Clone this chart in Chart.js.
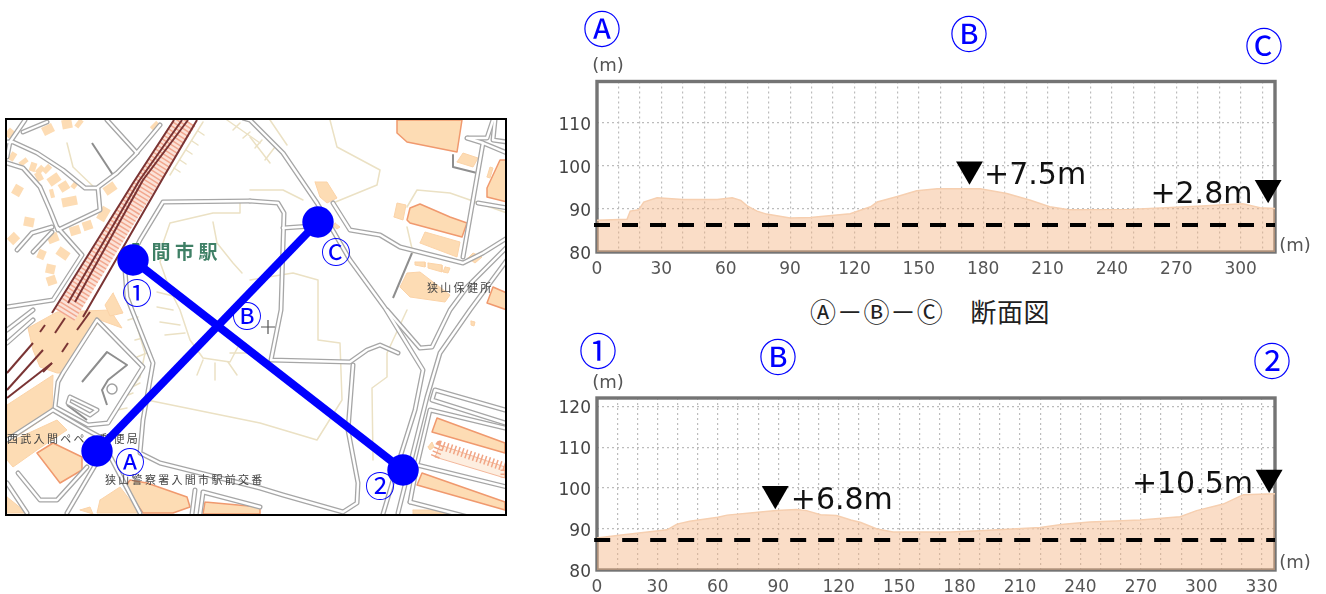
<!DOCTYPE html>
<html lang="ja">
<head>
<meta charset="utf-8">
<title>断面図</title>
<script src="https://cdn.jsdelivr.net/npm/chart.js@4"></script>
<style>
  html, body { margin: 0; padding: 0; background: #fff; width: 1326px; height: 594px; overflow: hidden; }
  canvas { position: absolute; filter: blur(0.4px); }
  #mapChart { left: 0; top: 100px; }
  #topChart { left: 540px; top: 50px; }
  #botChart { left: 540px; top: 370px; }
  .mark { position: absolute; transform: translate(-50%, -50%); color: #0000ff; font: 38px "Noto Sans CJK JP"; line-height: 1; white-space: pre; }
  .unit { position: absolute; transform: translate(-50%, -50%); color: #555; font: 18px "DejaVu Sans"; line-height: 1; }
  .caption { position: absolute; left: 810px; top: 295px; color: #222; font: 26px "Noto Sans CJK JP"; line-height: 32px; letter-spacing: 0.7px; white-space: pre; }
</style>
</head>
<body>
<canvas id="mapChart" width="530" height="430"></canvas>
<canvas id="topChart" width="786" height="240"></canvas>
<canvas id="botChart" width="786" height="224"></canvas>

<span class="mark" style="left:602px;top:27px">Ⓐ</span>
<span class="mark" style="left:969px;top:32px">Ⓑ</span>
<span class="mark" style="left:1264px;top:44px">Ⓒ</span>
<span class="mark" style="left:598px;top:349px">①</span>
<span class="mark" style="left:778px;top:355px">Ⓑ</span>
<span class="mark" style="left:1272px;top:359px">②</span>
<span class="unit" style="left:608px;top:65px">(m)</span>
<span class="unit" style="left:1295px;top:245px">(m)</span>
<span class="unit" style="left:608px;top:382px">(m)</span>
<span class="unit" style="left:1295px;top:562px">(m)</span>
<span class="caption">Ⓐ－Ⓑ－Ⓒ　断面図</span>

<script>
// profile A-B-C
const topDist = [0, 14, 15.5, 19.4, 21.8, 28, 40, 56, 63, 67, 70, 74.6, 79, 90, 99.5, 118, 127.5, 130.6, 140, 149, 158.6, 178.6, 191, 202, 211, 220, 248, 279.7, 301, 309, 316];
const topElev = [87.4, 87.6, 89.5, 89.8, 91.6, 92.6, 92.2, 92.2, 92.6, 92, 90.7, 89.5, 88.8, 87.9, 88, 88.9, 90.5, 91.6, 92.9, 94.2, 94.7, 94.7, 93.6, 92, 90.5, 89.8, 89.9, 90.6, 91.2, 90.3, 90.1];
const topBaseline = 86.3;
const topXLabels = [0, 30, 60, 90, 120, 150, 180, 210, 240, 270, 300];
const topYLabels = [80, 90, 100, 110];
const topMarkX = [173.6, 312.8];
const topMarkY = [99.2, 94.9];
const topNote = ['+7.5m', '+2.8m'];
const topNoteX = [180.4, 305.5];
const topNoteY = [95.8, 91.4];

// profile 1-B-2
const botDist = [0, 10, 34.8, 39.7, 46, 60, 64.6, 76, 89, 99, 104, 111, 119, 126, 131, 139, 147, 175.5, 190, 220, 231.6, 244.7, 269.7, 289.5, 297.7, 310.9, 320.9, 336.6];
const botElev = [87.8, 88.4, 89.8, 91.2, 91.9, 92.9, 93.4, 93.9, 94.5, 94.8, 94.5, 93.5, 93.3, 92.2, 91.6, 90, 89.3, 89.3, 89.6, 90.4, 91.2, 91.7, 92.2, 93, 94.5, 96.1, 98.4, 98.6];
const botBaseline = 87.35;
const botXLabels = [0, 30, 60, 90, 120, 150, 180, 210, 240, 270, 300, 330];
const botYLabels = [80, 90, 100, 110, 120];
const botMarkX = [88.5, 333.7];
const botMarkY = [98.6, 102.6];
const botNote = ['+6.8m', '+10.5m'];
const botNoteX = [96.2, 325.7];
const botNoteY = [94.95, 98.9];

// map layers, flat x,y lists in map units
const roads = [
  [107,120, 137,153], [160,125, 135,155, 117,173, 97,188, 85,188, 63,170, 37,153, 13,142, 7,142],
  [98,188, 100,210, 58,230, 50,210, 40,187, 23,168, 7,163], [58,228, 82,255, 53,300, 7,307],
  [52,227, 32,233, 17,250], [52,232, 33,252], [25,120, 10,142, 7,157], [47,122, 23,132],
  [250,201, 278,203, 284,213, 281,310, 271,360, 350,362, 367,350, 380,345, 398,353],
  [353,365, 348,430, 358,483, 357,503, 343,512, 283,495, 260,488, 160,463, 140,453, 143,420, 153,363, 132,310, 127,297, 125,270, 140,240, 163,202, 250,201],
  [283,228, 312,226], [243,118, 250,120, 283,153, 317,203, 350,260, 385,308, 423,370, 415,410, 397,467, 383,514],
  [507,247, 467,287, 450,310, 432,347, 420,348, 387,310], [507,260, 470,310, 440,353, 427,397, 398,513],
  [333,203, 350,230, 380,235, 400,247, 463,263, 483,253, 507,238], [463,257, 483,143, 467,138], [483,143, 507,153],
  [493,120, 487,138, 468,138], [478,203, 507,208], [495,120, 493,140, 507,142],
  [505,410, 435,390, 432,400, 505,423], [505,428, 430,410, 417,465], [417,465, 507,487], [410,502, 507,527], [417,465, 410,502],
  [97,320, 143,367, 108,423, 88,425, 55,407, 58,382, 63,373, 97,320], [70,397, 97,410, 90,415, 68,403, 70,397],
  [53,410, 87,430, 100,437, 140,513], [100,457, 67,513], [18,473, 40,500, 57,500, 87,467], [7,483, 27,513],
  [7,343, 33,320], [7,330, 33,310], [53,410, 7,440], [203,492, 260,507], [203,493, 200,514], [195,490, 192,514]
];
const thinRoads = [
  [92,143, 113,175], [453,155, 453,167, 477,173], [412,253, 393,298], [82,382, 107,352, 127,365, 108,380, 102,390, 107,405], [67,405, 87,420]
];
const buildings = [
  [397,120, 462,120, 457,152, 407,142, 397,133], [457,162, 463,153, 478,158, 473,167], [315,182, 327,182, 337,198, 327,203, 320,197],
  [335,223, 340,227, 337,229, 333,226], [394,217, 397,203, 406,205, 403,220], [407,220, 410,208, 420,204, 450,217, 467,223, 462,237, 410,223],
  [420,243, 425,232, 460,242, 457,257], [415,262, 425,262, 425,267, 415,265], [428,263, 442,265, 442,272, 428,268], [445,267, 450,268, 448,273, 443,272],
  [400,287, 407,273, 420,272, 450,295, 445,302, 410,297], [468,258, 473,253, 482,257, 475,263], [487,188, 500,160, 507,160, 507,202, 487,197],
  [487,177, 490,167, 493,168, 490,178], [487,303, 493,287, 507,293, 507,310], [432,432, 437,418, 505,443, 505,453], [417,485, 422,473, 505,502, 505,510],
  [413,510, 433,510, 450,514, 413,514], [428,447, 432,442, 434,447, 430,450], [471,321, 475,322, 474,326, 471,325],
  [28,328, 57,312, 110,310, 122,328, 100,320, 63,373, 57,373, 40,367, 33,350], [113,293, 123,313, 110,316, 105,305],
  [7,405, 53,375, 52,413, 7,443], [7,443, 57,420, 67,430, 37,450, 13,467, 7,460], [37,453, 53,443, 82,457, 82,470, 60,483],
  [7,497, 27,513, 7,513], [100,500, 120,487, 140,513, 97,513], [130,480, 147,483, 187,497, 190,507, 173,513, 143,513, 125,487],
  [80,510, 90,507, 93,514], [205,502, 260,507, 260,514, 203,514]
];
const outlinedBuildings = [0, 5, 12, 14, 15, 16, 24, 27, 29];
const houses = [
  [43,132, 53,127], [62,125, 72,123], [77,122, 81,125], [153,124, 157,128], [7,131, 13,136], [10,155, 15,158], [22,160, 25,164], [30,166, 36,168],
  [38,168, 42,172], [45,167, 49,171], [36,178, 42,175], [49,183, 59,176], [50,194, 54,193], [60,189, 68,184], [73,183, 77,186], [62,203, 77,200],
  [15,195, 20,186], [24,221, 34,223], [17,235, 10,242], [48,240, 58,236], [38,253, 45,256], [58,250, 68,257], [46,268, 55,270], [47,282, 56,279],
  [70,232, 80,229], [83,227, 92,224], [100,220, 107,208], [105,192, 115,185]
];
const hatchedBlock = [435,457, 440,445, 505,467, 505,478];
const railBand = [186,120, 148,180, 65,315];
const rails = [
  [174,120, 133,183, 52,313], [188,120, 143,180, 75,302], [182,120, 139,181, 68,303], [197,120, 163,178, 83,317],
  [7,373, 33,343], [7,390, 43,350], [7,398, 52,363], [40,332, 45,325], [55,333, 65,318], [77,330, 90,312], [62,352, 68,343], [43,372, 52,363]
];
const tanLines = [
  [67,143, 73,167, 97,190], [203,122, 170,175], [198,131, 204,135], [192,141, 198,145], [186,150, 192,154], [180,160, 186,164], [174,168, 180,172],
  [163,243, 170,223, 213,213, 240,213, 240,200], [163,253, 160,262, 170,290, 180,310, 190,340, 203,358, 230,362, 240,343],
  [160,322, 180,325], [165,335, 185,333], [177,365, 193,352], [197,375, 203,360], [215,380, 215,363], [237,375, 228,362], [250,353, 230,353],
  [157,292, 177,297], [157,307, 173,310], [213,222, 217,243, 233,263, 242,273],
  [132,310, 145,353, 140,377, 113,413], [128,320, 138,317], [135,340, 143,338], [137,357, 147,353], [132,387, 140,383], [123,397, 133,393], [117,410, 127,408],
  [147,400, 260,423, 317,440, 342,400, 340,343, 318,340, 318,280, 293,273, 250,280], [330,120, 337,147, 380,170, 377,185, 333,203],
  [407,207, 417,190, 450,193, 507,213], [250,190, 283,190, 303,200], [270,120, 287,145], [227,120, 260,143], [250,137, 270,163],
  [233,130, 240,123], [243,138, 250,132], [255,148, 262,140], [265,160, 275,147], [407,310, 387,353, 387,377, 372,388, 373,460], [407,227, 413,253]
];
const surveyLineABC = [97,451, 318,222];
const surveyLine12 = [133,260, 403,470];
const surveyCross = [268,327];
const roundabout = [112,389];
const stationName = ['入間市駅'];
const stationNameX = [128];
const stationNameY = [259];
const placeNames = ['西武入間ペペ　郵便局', '狭山警察署入間市駅前交番', '狭山保健所'];
const placeNameX = [7, 105, 427];
const placeNameY = [443, 484, 292];
const mapMarks = ['Ⓐ', 'Ⓑ', 'Ⓒ', '①', '②'];
const mapMarkX = [130, 247, 336, 137, 380];
const mapMarkY = [473, 327, 263, 304, 497];

const toPts = (list) => {
  const pts = [];
  for (let i = 0; i < list.length; i += 2) pts.push({ x: list[i], y: list[i + 1] });
  return pts;
};
const pathSet = (list, color, width, extra) => Object.assign({
  data: toPts(list), showLine: true, pointRadius: 0, borderColor: color, borderWidth: width,
  borderJoinStyle: 'round', borderCapStyle: 'round', tension: 0
}, extra || {});
const shapeSet = (list, fillColor, line, width) => pathSet(list.concat(list.slice(0, 2)), line, width, { fill: 'shape', backgroundColor: fillColor });

// the frame sits under the marks, the text on top of them
const framePlugin = (color, width) => ({
  id: 'frame',
  beforeDatasetsDraw(chart) {
    const a = chart.chartArea, ctx = chart.ctx;
    ctx.save();
    ctx.strokeStyle = color; ctx.lineWidth = width;
    ctx.strokeRect(a.left, a.top, a.right - a.left, a.bottom - a.top);
    ctx.restore();
  }
});
function drawNotes(chart, texts, xs, ys, align, font, color, spacing) {
  const ctx = chart.ctx;
  ctx.save();
  ctx.font = font; ctx.fillStyle = color; ctx.textBaseline = 'alphabetic';
  ctx.letterSpacing = spacing || '0px';
  texts.forEach((t, i) => {
    ctx.textAlign = align[i] || align[0];
    ctx.fillText(t, chart.scales.x.getPixelForValue(xs[i]), chart.scales.y.getPixelForValue(ys[i]));
  });
  ctx.restore();
}

function profileChart(id, dist, elev, baseline, xMax, yMax, xLabels, yLabels, markX, markY, note, noteX, noteY, plotTop, plotBottom, height) {
  const profile = dist.map((d, i) => ({ x: d, y: elev[i] }));
  const marks = markX.map((x, i) => ({ x: x, y: markY[i] }));
  return new Chart(document.getElementById(id), {
    type: 'scatter',
    data: {
      datasets: [
        { data: marks, pointStyle: 'triangle', rotation: 180, pointRadius: 15.5, backgroundColor: '#000', borderColor: '#000', borderWidth: 0, clip: false },
        { data: [{ x: -1.4, y: baseline }, { x: xMax, y: baseline }], showLine: true, pointRadius: 0, borderColor: '#000', borderWidth: 4, borderDash: [16, 12], clip: false },
        { data: profile, showLine: true, pointRadius: 0, borderColor: '#f6cfb0', borderWidth: 1.5, fill: 'start', backgroundColor: 'rgba(244,180,130,0.45)' }
      ]
    },
    options: {
      responsive: false, animation: false,
      layout: { autoPadding: false, padding: { top: plotTop, right: 51, left: 0, bottom: 0 } },
      plugins: { legend: { display: false }, tooltip: { enabled: false }, title: { display: false } },
      scales: {
        x: {
          type: 'linear', min: 0, max: xMax,
          afterFit: (s) => { s.height = height - plotBottom; },
          grid: { color: '#bcbcbc', drawTicks: false, lineWidth: 1.2 },
          border: { display: false, dash: [2, 3] },
          ticks: {
            stepSize: 10, autoSkip: false, maxRotation: 0, includeBounds: false, padding: 7, color: '#555',
            font: { family: 'DejaVu Sans', size: 17 },
            callback: (v) => xLabels.includes(v) ? String(v) : ''
          }
        },
        y: {
          type: 'linear', min: 80, max: yMax,
          afterFit: (s) => { s.width = 57; },
          grid: { color: '#bcbcbc', drawTicks: false, lineWidth: 1.2 },
          border: { display: false, dash: [2, 3] },
          ticks: {
            stepSize: 10, includeBounds: false, padding: 6, labelOffset: 2.5, color: '#444',
            font: { family: 'DejaVu Sans', size: 17 },
            callback: (v) => yLabels.includes(v) ? String(v) : ''
          }
        }
      }
    },
    plugins: [framePlugin('#747474', 3.4), {
      id: 'notes',
      afterDatasetsDraw(chart) { drawNotes(chart, note, noteX, noteY, ['left', 'right'], '30px "DejaVu Sans"', '#111'); }
    }]
  });
}

profileChart('topChart', topDist, topElev, topBaseline, 316, 119.6, topXLabels, topYLabels, topMarkX, topMarkY, topNote, topNoteX, topNoteY, 31.5, 202, 240);
profileChart('botChart', botDist, botElev, botBaseline, 336.6, 122, botXLabels, botYLabels, botMarkX, botMarkY, botNote, botNoteX, botNoteY, 28, 200, 224);

// map, painted in list order and handed over reversed (Chart.js draws first dataset last)
const layers = [];
tanLines.forEach((l) => layers.push(pathSet(l, '#ebe1c4', 1.5)));
houses.forEach((l) => layers.push(pathSet(l, '#fddcb4', 9, { borderCapStyle: 'butt' })));
buildings.forEach((l, i) => {
  const lined = outlinedBuildings.includes(i);
  layers.push(shapeSet(l, '#fddcb4', lined ? '#f0996e' : '#fbd3a8', lined ? 1.5 : 1));
});
layers.push(shapeSet(hatchedBlock, '#fdeee0', '#f3b79a', 1));
layers.push(pathSet(hatchedBlock, '#f1a585', 9, { borderDash: [1.5, 2.5], borderCapStyle: 'butt' }));
layers.push(pathSet(railBand, '#fbe2d8', 22, { borderCapStyle: 'butt' }));
layers.push(pathSet(railBand, '#f2a78e', 22, { borderDash: [1.5, 2.5], borderCapStyle: 'butt' }));
thinRoads.forEach((l) => layers.push(pathSet(l, '#8e8e8e', 2, { borderCapStyle: 'butt' })));
roads.forEach((l) => layers.push(pathSet(l, '#a6a6a6', 5)));
roads.forEach((l) => layers.push(pathSet(l, '#ffffff', 2.4)));
rails.forEach((l) => layers.push(pathSet(l, '#7a3434', 2, { borderCapStyle: 'butt' })));
layers.push({ data: toPts(roundabout), pointRadius: 5, pointBackgroundColor: '#fff', pointBorderColor: '#a0a0a0', pointBorderWidth: 1.5 });
layers.push({ data: toPts(surveyCross), pointStyle: 'cross', pointRadius: 7, pointBorderColor: '#555', pointBorderWidth: 1.2 });
[surveyLineABC, surveyLine12].forEach((l) => layers.push(pathSet(l, '#0000ff', 8, {
  pointRadius: 11.7, pointBackgroundColor: '#0000ff', pointBorderColor: '#0000ff', borderCapStyle: 'butt'
})));

new Chart(document.getElementById('mapChart'), {
  type: 'scatter',
  data: { datasets: layers.reverse() },
  options: {
    responsive: false, animation: false,
    layout: { autoPadding: false, padding: { left: 6, top: 19, right: 24, bottom: 15 } },
    plugins: { legend: { display: false }, tooltip: { enabled: false } },
    scales: {
      x: { type: 'linear', min: 6, max: 506, display: false },
      y: { type: 'linear', min: 119, max: 515, reverse: true, display: false }
    }
  },
  plugins: [{
    // place names go just under the two survey lines, index 1 is the first of them to be drawn
    id: 'placeNames',
    beforeDatasetDraw(chart, args) {
      if (args.index !== 1) return;
      drawNotes(chart, stationName, stationNameX, stationNameY, ['left'], 'bold 19px "Noto Sans CJK JP"', '#3f8066', '4.5px');
      drawNotes(chart, placeNames, placeNameX, placeNameY, ['left'], '11px "Noto Sans CJK JP"', '#444', '2.3px');
    }
  }, {
    id: 'mapMarks',
    afterDatasetsDraw(chart) { drawNotes(chart, mapMarks, mapMarkX, mapMarkY, ['center'], '30px "Noto Sans CJK JP"', '#0000ff'); }
  }, {
    id: 'mapFrame',
    afterDraw(chart) {
      const a = chart.chartArea, ctx = chart.ctx;
      ctx.save();
      ctx.strokeStyle = '#000'; ctx.lineWidth = 2;
      ctx.strokeRect(a.left, a.top, a.right - a.left, a.bottom - a.top);
      ctx.restore();
    }
  }]
});
</script>
</body>
</html>
